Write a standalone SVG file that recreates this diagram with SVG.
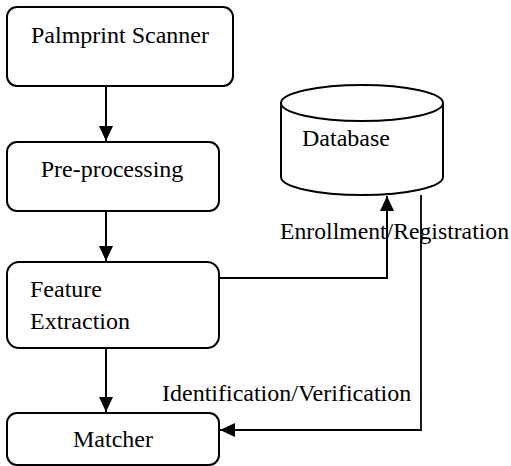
<svg xmlns="http://www.w3.org/2000/svg" width="511" height="466" viewBox="0 0 511 466">
<style>
.box{fill:#fff;stroke:#000;stroke-width:2}
.t{font-family:"Liberation Serif","Times New Roman",serif;font-size:24px;fill:#000}
.c{text-anchor:middle}
.ln{fill:none;stroke:#000;stroke-width:2}
</style>
<defs>
<marker id="ah" markerWidth="15" markerHeight="14" refX="15" refY="7" orient="auto" markerUnits="userSpaceOnUse" viewBox="0 0 15 14">
<path d="M0,0 L15,7 L0,14 Z" fill="#000"/>
</marker>
</defs>
<rect width="511" height="466" fill="#fff"/>
<g id="connectors">
<line class="ln" x1="106" y1="86" x2="106" y2="141" marker-end="url(#ah)"/>
<line class="ln" x1="106" y1="211" x2="106" y2="261" marker-end="url(#ah)"/>
<line class="ln" x1="106" y1="348" x2="106" y2="412" marker-end="url(#ah)"/>
<polyline class="ln" points="219,278 387,278 387,196" marker-end="url(#ah)"/>
<polyline class="ln" points="421,195 421,430 220,430" marker-end="url(#ah)" style="stroke-width:1.8"/>
<text class="t" x="280" y="239" textLength="229" lengthAdjust="spacingAndGlyphs">Enrollment/Registration</text>
<text class="t" x="162" y="401">Identification/Verification</text>
</g>
<g id="scanner">
<rect class="box" x="7" y="7" width="226" height="79" rx="10"/>
<text class="t c" x="120" y="43">Palmprint Scanner</text>
</g>
<g id="preprocessing">
<rect class="box" x="7" y="142" width="212" height="69" rx="10"/>
<text class="t c" x="112" y="177">Pre-processing</text>
</g>
<g id="feature">
<rect class="box" x="7" y="262" width="212" height="86" rx="12"/>
<text class="t" x="30" y="297">Feature</text>
<text class="t" x="30" y="329">Extraction</text>
</g>
<g id="matcher">
<rect class="box" x="7" y="413" width="212" height="52" rx="10"/>
<text class="t c" x="113" y="447">Matcher</text>
</g>
<g id="database">
<path class="box" d="M281,103 L281,177 A81,18 0 0 0 443,177 L443,103"/>
<ellipse class="box" cx="362" cy="103" rx="81" ry="18"/>
<text class="t" x="302" y="146">Database</text>
</g>
</svg>
